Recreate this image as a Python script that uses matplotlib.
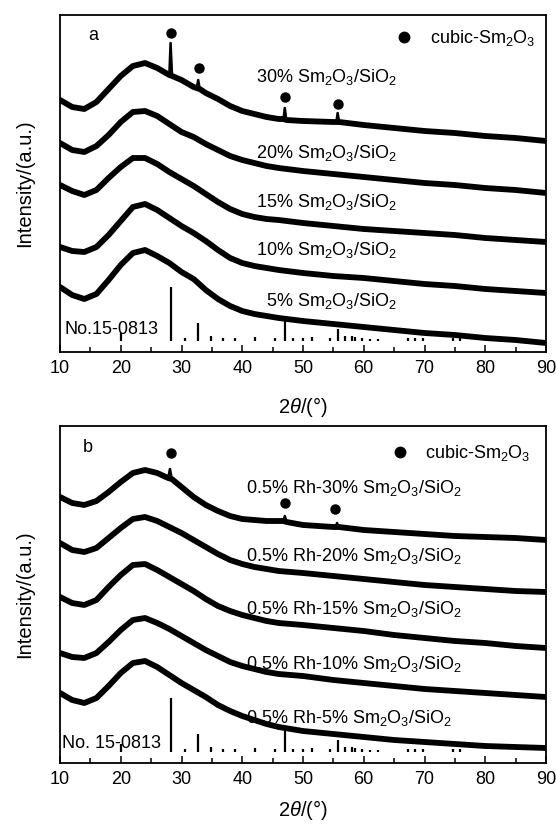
import matplotlib
matplotlib.use('Agg')
import matplotlib.pyplot as plt
from matplotlib.ticker import MultipleLocator, NullLocator

plt.rcParams['font.family'] = ['Liberation Sans', 'DejaVu Sans']
plt.rcParams['mathtext.fontset'] = 'custom'
plt.rcParams['mathtext.rm'] = 'Liberation Sans'
plt.rcParams['mathtext.it'] = 'Liberation Sans:italic'

# 2theta grid shared by the smooth curves
tt = [10, 12, 14, 16, 18, 20, 22, 24, 26, 28, 30, 32, 34, 36, 38, 40, 42, 44, 46, 50, 55, 60, 65, 70, 75, 80, 85, 90]

# panel a (stacked, arbitrary units)
tt_a30 = [10, 12, 14, 16, 18, 20, 22, 24, 26, 28.0, 28.2, 28.45, 30, 32, 32.5, 32.75, 33.0, 34, 36, 38, 40, 42, 44, 46,
          46.8, 47.0, 47.25, 50, 55, 55.5, 55.7, 55.95, 60, 65, 70, 75, 80, 85, 90]
a30 = [252, 245, 243, 250, 263, 276, 286, 289, 284, 277, 309, 276, 272, 265, 264, 272, 263, 259, 253, 246, 241, 238, 235, 233,
       233, 244, 232, 231, 230, 230, 239, 230, 227, 224, 221, 219, 216, 214, 211]
a30_spikes = [28.2, 32.75, 47.0, 55.7]
a20 = [209, 202, 200, 206, 217, 230, 240, 241, 236, 228, 220, 215, 208, 202, 196, 192, 189, 186, 184, 181, 178, 175, 172, 169, 167, 164, 162, 159]
a15 = [167, 161, 157, 162, 174, 185, 194, 194, 188, 180, 173, 166, 158, 150, 143, 138, 135, 133, 132, 129, 126, 123, 121, 119, 117, 114, 112, 110]
a10 = [105, 101, 100, 105, 117, 131, 145, 148, 142, 134, 126, 119, 111, 102, 94, 89, 86, 84, 82, 79, 76, 74, 71, 68, 66, 63, 61, 59]
a05 = [65, 57, 53, 58, 72, 87, 99, 102, 96, 89, 80, 73, 62, 53, 46, 41, 38, 36, 34, 31, 28, 25, 22, 19, 17, 14, 12, 9]

# panel b
tt_b30 = [10, 12, 14, 16, 18, 20, 22, 24, 26, 27.8, 28.1, 28.4, 30, 32, 34, 36, 38, 40, 42, 44, 46, 46.8, 47.0, 47.3, 50,
          55, 55.4, 55.6, 55.9, 60, 65, 70, 75, 80, 85, 90]
b30 = [266, 260, 258, 262, 271, 281, 290, 293, 290, 285, 294, 284, 276, 266, 258, 252, 247, 244, 243, 242, 242, 242, 247, 241, 238,
       236, 236, 240, 236, 233, 231, 229, 227, 226, 225, 223]
b30_spikes = [28.1, 47.0, 55.6]
b20 = [220, 213, 211, 215, 225, 235, 244, 246, 242, 236, 230, 223, 216, 209, 203, 199, 196, 194, 192, 190, 187, 184, 181, 178, 176, 174, 172, 171]
b15 = [166, 160, 158, 163, 176, 188, 198, 199, 193, 186, 179, 172, 164, 157, 152, 148, 145, 142, 140, 138, 135, 132, 128, 125, 122, 120, 117, 115]
b10 = [110, 106, 105, 110, 121, 133, 143, 145, 140, 134, 127, 120, 113, 107, 101, 97, 94, 91, 89, 87, 83, 80, 77, 74, 72, 70, 68, 66]
b05 = [70, 63, 60, 65, 77, 90, 100, 102, 96, 88, 80, 73, 66, 58, 52, 47, 43, 39, 36, 32, 29, 26, 23, 21, 19, 17, 16, 15]

labels_a = ['30% Sm$_2$O$_3$/SiO$_2$', '20% Sm$_2$O$_3$/SiO$_2$', '15% Sm$_2$O$_3$/SiO$_2$',
            '10% Sm$_2$O$_3$/SiO$_2$', '5% Sm$_2$O$_3$/SiO$_2$']
labels_b = ['0.5% Rh-30% Sm$_2$O$_3$/SiO$_2$', '0.5% Rh-20% Sm$_2$O$_3$/SiO$_2$', '0.5% Rh-15% Sm$_2$O$_3$/SiO$_2$',
            '0.5% Rh-10% Sm$_2$O$_3$/SiO$_2$', '0.5% Rh-5% Sm$_2$O$_3$/SiO$_2$']

# PDF No.15-0813 cubic Sm2O3 reference sticks
stick_pos = [20.1, 28.2, 30.6, 32.7, 34.8, 36.9, 38.8, 42.1, 45.4, 47.0, 48.4, 50.0, 51.5, 54.4, 55.7, 56.9, 58.1,
             58.6, 59.7, 61.0, 62.3, 67.3, 68.5, 69.8, 74.7, 75.9]
stick_h = [8, 54, 3, 18, 5, 3, 3, 4, 3, 22, 3, 3, 4, 3, 12, 5, 5, 4, 3, 2, 2, 3, 3, 3, 3, 3]
stick_base = 11

# cubic-Sm2O3 peak markers
dots_a_x = [28.2, 32.8, 47.0, 55.8]
dots_a_y = [319, 284, 255, 248]
dots_b_x = [28.3, 47.0, 55.3]
dots_b_y = [310, 260, 254]

FS = 13
FS_LAB = 14.5
W, H = 556, 824
LW = 4.2


def setup(ax, xlab_y):
    ax.set_xlim(10, 90)
    ax.set_ylim(0, 337)
    ax.xaxis.set_major_locator(MultipleLocator(10))
    ax.xaxis.set_minor_locator(MultipleLocator(5))
    ax.yaxis.set_major_locator(NullLocator())
    ax.tick_params(axis='x', which='major', direction='in', length=5, width=1.1, labelsize=FS, pad=6)
    ax.tick_params(axis='x', which='minor', direction='in', length=3.5, width=1.1)
    for s in ax.spines.values():
        s.set_linewidth(1.3)
    ax.set_xlabel(r'2$\theta$/(°)', fontsize=FS_LAB)
    ax.xaxis.set_label_coords(0.5, xlab_y)
    ax.set_ylabel('Intensity/(a.u.)', fontsize=FS_LAB)
    ax.yaxis.set_label_coords(-0.053, 0.5)
    ax.vlines(stick_pos, stick_base, [stick_base + h for h in stick_h], color='black', lw=1.6)


def draw_spiky(ax, xs, ys, spikes):
    # thick band for the broad pattern, thin line for the sharp reflections
    base = [(x, y) for x, y in zip(xs, ys) if x not in spikes]
    ax.plot([p[0] for p in base], [p[1] for p in base], color='black', lw=LW, solid_joinstyle='round')
    ax.plot(xs, ys, color='black', lw=1.8)


fig = plt.figure(figsize=(W / 100, H / 100), dpi=100)
ax_a = fig.add_axes([60 / W, 1 - 352 / H, 486 / W, 337 / H])
ax_b = fig.add_axes([60 / W, 1 - 763 / H, 486 / W, 337 / H])

draw_spiky(ax_a, tt_a30, a30, a30_spikes)
for ys in [a20, a15, a10, a05]:
    ax_a.plot(tt, ys, color='black', lw=LW, solid_joinstyle='round')
draw_spiky(ax_b, tt_b30, b30, b30_spikes)
for ys in [b20, b15, b10, b05]:
    ax_b.plot(tt, ys, color='black', lw=LW, solid_joinstyle='round')

setup(ax_a, -0.127)
setup(ax_b, -0.105)

ax_a.plot(dots_a_x, dots_a_y, 'o', color='black', ms=6.5)
ax_b.plot(dots_b_x, dots_b_y, 'o', color='black', ms=6.5)

# legend entries
ax_a.plot([66.6], [315], 'o', color='black', ms=7.5)
ax_a.text(70.9, 309, 'cubic-Sm$_2$O$_3$', fontsize=FS, va='baseline')
ax_b.plot([66.0], [311], 'o', color='black', ms=7.5)
ax_b.text(70.1, 305, 'cubic-Sm$_2$O$_3$', fontsize=FS, va='baseline')

ax_a.text(15.4, 317, 'a', fontsize=FS, va='center', ha='center')
ax_b.text(14.6, 315, 'b', fontsize=FS, va='center', ha='center')

for lab, yb in zip(labels_a, [270, 194, 145, 97, 46]):
    ax_a.text(65.5, yb, lab, fontsize=FS, ha='right', va='baseline')
for lab, yb in zip(labels_b, [270, 202, 149, 94, 40]):
    ax_b.text(40.6, yb, lab, fontsize=FS, ha='left', va='baseline')

ax_a.text(10.8, 18, 'No.15-0813', fontsize=FS, va='baseline')
ax_b.text(10.3, 15, 'No. 15-0813', fontsize=FS, va='baseline')

fig.savefig('out.png', dpi=100)
